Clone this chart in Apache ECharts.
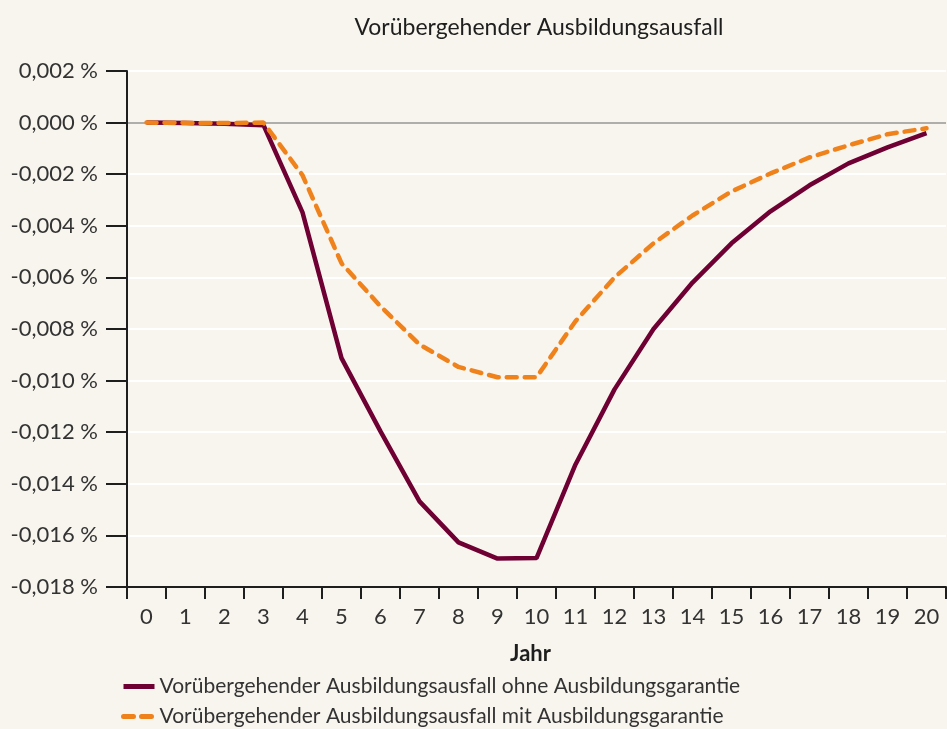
<!DOCTYPE html>
<html>
<head>
<meta charset="utf-8">
<script src="https://cdn.jsdelivr.net/npm/echarts@6/dist/echarts.min.js"></script>
<style>
  html, body { margin: 0; padding: 0; background: #f8f5ee; }
  #chart { width: 947px; height: 729px; }
</style>
</head>
<body>
<div id="chart"></div>
<script>
// Jahre 0..20
const years = ['0', '1', '2', '3', '4', '5', '6', '7', '8', '9', '10',
  '11', '12', '13', '14', '15', '16', '17', '18', '19', '20'];

// Abweichung in %
const ohneGarantie = [0, -0.00002, -0.00004, -0.0001, -0.00348, -0.00913, -0.01197, -0.01468,
  -0.01627, -0.0169, -0.01688, -0.01325, -0.01034, -0.008, -0.0062, -0.00468,
  -0.00344, -0.00243, -0.00158, -0.00096, -0.00041];
const mitGarantie = [0, -0.00001, -0.00002, 0, -0.00204, -0.00545, -0.00712, -0.0086,
  -0.00947, -0.00987, -0.00987, -0.0077, -0.006, -0.00468, -0.0036, -0.00267,
  -0.00197, -0.00135, -0.00088, -0.00045, -0.00022];

const seriesNames = [
  'Vorübergehender Ausbildungsausfall ohne Ausbildungsgarantie',
  'Vorübergehender Ausbildungsausfall mit Ausbildungsgarantie'
];

// Gitternetzlinien: Nulllinie grau, Rest weiß
const splitColors = [];
for (let i = 0; i < 11; i++) {
  splitColors.push(i === 9 ? '#b0aeaa' : '#ffffff');
}

const chart = echarts.init(document.getElementById('chart'));

const option = {
  backgroundColor: '#f8f5ee',
  textStyle: { fontFamily: 'Lato' },
  animation: false,
  title: {
    text: 'Vorübergehender Ausbildungsausfall',
    left: 534,
    textAlign: 'center',
    top: 11,
    textStyle: { fontFamily: 'Lato', fontSize: 23, fontWeight: 'normal', color: '#1e1e1e' }
  },
  legend: {
    orient: 'vertical',
    left: 116,
    top: 671,
    height: 120,
    itemWidth: 31,
    itemHeight: 10,
    itemGap: 9,
    itemStyle: { opacity: 0 },
    lineStyle: { width: 5 },
    textStyle: { fontFamily: 'Lato', fontSize: 21, color: '#333' },
    data: seriesNames
  },
  grid: {
    left: 127,
    right: 1,
    top: 71,
    bottom: 142,
    containLabel: false
  },
  xAxis: {
    type: 'category',
    data: years,
    boundaryGap: true,
    name: 'Jahr',
    nameLocation: 'middle',
    nameGap: 56,
    nameTextStyle: { fontFamily: 'Lato', fontSize: 22, fontWeight: 'bold', color: '#1e1e1e', padding: [0, 12, 0, 0] },
    axisLine: { onZero: false, lineStyle: { color: '#1e1e1e', width: 2 } },
    axisTick: { show: true, length: 12, lineStyle: { color: '#1e1e1e', width: 2 } },
    axisLabel: { margin: 19, fontSize: 22, color: '#333', fontFamily: 'Lato' },
    splitLine: { show: false }
  },
  yAxis: {
    type: 'value',
    min: -0.018,
    max: 0.002,
    interval: 0.002,
    axisLine: { show: true, lineStyle: { color: '#1e1e1e', width: 2 } },
    axisTick: { show: true, length: 21, lineStyle: { color: '#1e1e1e', width: 2 } },
    axisLabel: {
      margin: 29,
      fontSize: 22,
      color: '#333',
      fontFamily: 'Lato',
      formatter: function (v) {
        const s = (Math.round(v * 1000) / 1000).toFixed(3).replace('.', ',');
        return (s === '-0,000' ? '0,000' : s) + ' %';
      }
    },
    splitLine: { show: true, lineStyle: { color: splitColors, width: 2 } }
  },
  series: [
    {
      name: seriesNames[0],
      type: 'line',
      data: ohneGarantie,
      symbol: 'none',
      z: 3,
      lineStyle: { color: '#6e0033', width: 4.5 },
      itemStyle: { color: '#6e0033' }
    },
    {
      name: seriesNames[1],
      type: 'line',
      data: mitGarantie,
      symbol: 'none',
      z: 4,
      lineStyle: { color: '#f0821c', width: 4.5, type: [10, 8], cap: 'round' },
      itemStyle: { color: '#f0821c' }
    }
  ]
};

chart.setOption(option);
</script>
</body>
</html>
